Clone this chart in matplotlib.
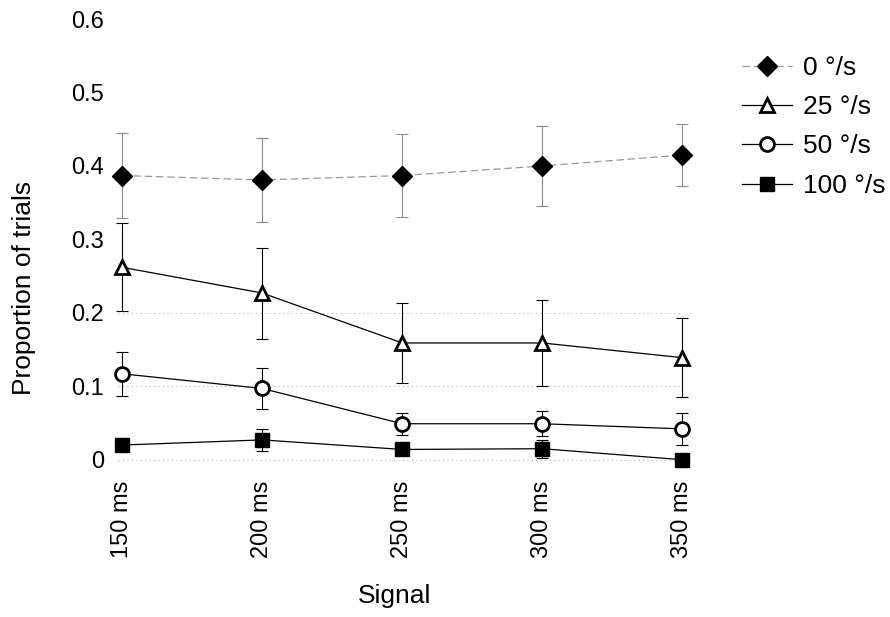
import matplotlib
matplotlib.use('Agg')
import matplotlib.pyplot as plt

plt.rcParams['font.family'] = ['Liberation Sans', 'DejaVu Sans']

signals = ['150 ms', '200 ms', '250 ms', '300 ms', '350 ms']
speeds = ['0 °/s', '25 °/s', '50 °/s', '100 °/s']

p0 = [0.387, 0.381, 0.387, 0.400, 0.415]
e0 = [0.058, 0.057, 0.056, 0.055, 0.042]
p25 = [0.262, 0.227, 0.159, 0.159, 0.139]
e25 = [0.060, 0.062, 0.055, 0.058, 0.054]
p50 = [0.117, 0.097, 0.049, 0.049, 0.042]
e50 = [0.030, 0.028, 0.015, 0.017, 0.022]
p100 = [0.020, 0.027, 0.014, 0.015, 0.000]
e100 = [0.008, 0.015, 0.006, 0.012, 0.004]

yticks = [0, 0.1, 0.2, 0.3, 0.4, 0.5, 0.6]
ytick_labels = ['0', '0.1', '0.2', '0.3', '0.4', '0.5', '0.6']
grid_levels = [0, 0.1, 0.2]

fig = plt.figure(figsize=(8.9, 6.17), dpi=100)
ax = fig.add_axes([0.1326, 0.243, 0.634, 0.726])

x = list(range(len(signals)))

for g in grid_levels:
    ax.axhline(g, color='#b0b0b0', lw=0.8, ls=(0, (1, 3)), zorder=0)

# error bars first, markers on top
ax.errorbar(x, p0, yerr=e0, fmt='none', ecolor='#8a8a8a', elinewidth=0.8,
            capsize=4, capthick=0.8, ls=':', zorder=1, clip_on=False)
for p, e in [(p25, e25), (p50, e50), (p100, e100)]:
    ax.errorbar(x, p, yerr=e, fmt='none', ecolor='black', elinewidth=0.8,
                capsize=4, capthick=0.8, zorder=1, clip_on=False)

ax.plot(x, p0, color='#999999', lw=0.9, ls=(0, (6, 3)), marker='D', ms=10,
        mfc='black', mec='black', label=speeds[0], zorder=3, clip_on=False)
ax.plot(x, p25, color='black', lw=0.9, marker='^', ms=10, mfc='white',
        mec='black', mew=2, label=speeds[1], zorder=3, clip_on=False)
ax.plot(x, p50, color='black', lw=0.9, marker='o', ms=10, mfc='white',
        mec='black', mew=2, label=speeds[2], zorder=3, clip_on=False)
ax.plot(x, p100, color='black', lw=0.9, marker='s', ms=10, mfc='black',
        mec='black', label=speeds[3], zorder=3, clip_on=False)

ax.set_xlim(-0.03, 4.0)
ax.set_ylim(-0.01, 0.6)
ax.set_xticks(x)
ax.set_xticklabels(signals, rotation=90, fontsize=17)
ax.set_yticks(yticks)
ax.set_yticklabels(ytick_labels, fontsize=17)
ax.tick_params(length=0, pad=10)
for s in ax.spines.values():
    s.set_visible(False)

ax.set_xlabel('Signal', fontsize=19)
ax.set_ylabel('Proportion of trials', fontsize=19)
ax.xaxis.set_label_coords(0.49, -0.26)
ax.yaxis.set_label_coords(-0.145, 0.40)

fig.legend(loc='upper left', bbox_to_anchor=(0.807, 0.948), frameon=False,
           fontsize=19, handlelength=1.9, handletextpad=0.4, labelspacing=0.58)

fig.savefig('out.png', dpi=100)
